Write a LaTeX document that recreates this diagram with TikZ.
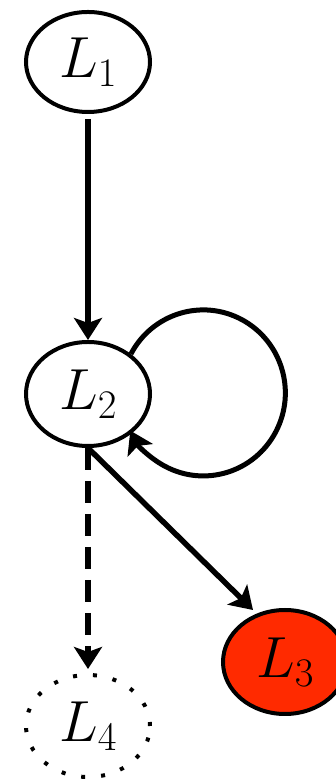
\RequirePackage{fix-cm}
\documentclass[tikz,border=0pt]{standalone}
\usetikzlibrary{arrows.meta,shapes.geometric}
\definecolor{lred}{RGB}{255,42,0}
\begin{document}
\begin{tikzpicture}[x=1pt,y=1pt,
  state/.style={ellipse,draw,line width=4pt,minimum width=124pt,minimum height=100pt,inner sep=0pt,
     font=\fontsize{58}{60}\selectfont},
  tip/.style={-{Stealth[length=22pt,width=28pt,inset=5pt]}},
  conn/.style={line width=5.5pt,tip}]
\useasboundingbox (0,0) rectangle (336,781);
\node[state] (L1) at (88,719) {$L_1$};
\node[state,minimum height=104pt] (L2) at (88,387) {$L_2$};
\node[state,fill=lred,minimum height=104pt] (L3) at (285,119) {$L_3$};
\node[state,minimum height=102pt,dash pattern=on 4pt off 16pt] (L4) at (88,55) {$L_4$};
\coordinate (e3) at (253,171);
\draw[conn] (L1.south) ++(0,-5) -- (L2.north);
\draw[line width=5pt,tip] (L2.43) arc[start angle=152,end angle=-153,x radius=82pt,y radius=83pt];
\draw[conn] (L2.south) -- (e3);
\draw[conn,dash pattern=on 22pt off 11pt] (L2.south) -- ([yshift=4pt]L4.north);
\end{tikzpicture}
\end{document}
